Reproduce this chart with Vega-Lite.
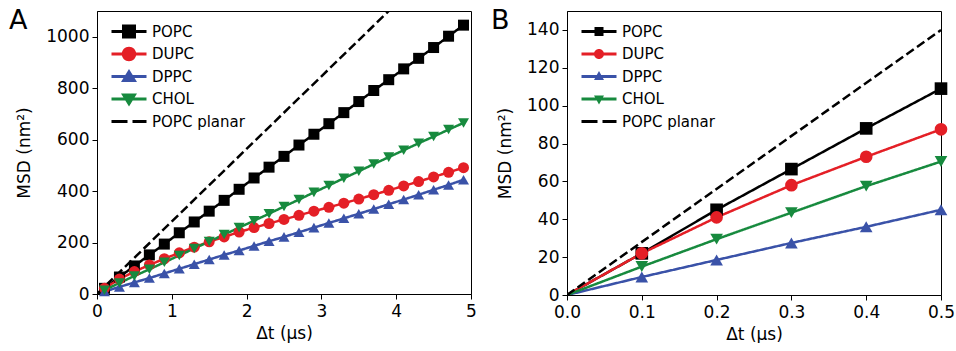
{
  "$schema": "https://vega.github.io/schema/vega-lite/v6.json",
  "padding": {"left": 8, "top": 6, "right": 0, "bottom": 0},
  "background": "white",
  "config": {
    "font": "DejaVu Sans",
    "view": {"stroke": "#000000", "strokeWidth": 1},
    "axis": {"domainColor": "#000000", "tickColor": "#000000", "labelColor": "#000000", "titleColor": "#000000", "labelFontSize": 17, "titleFontSize": 17, "titleFontWeight": "normal", "tickSize": 5, "labelPadding": 3, "grid": false, "labelFont": "DejaVu Sans", "titleFont": "DejaVu Sans", "labelFlush": false},
    "axisX": {"labelPadding": 4, "titlePadding": 6},
    "axisY": {"titlePadding": 12},
    "legend": {"labelFontSize": 15, "labelFont": "DejaVu Sans", "labelColor": "#000000", "orient": "none", "legendX": 12, "legendY": 13, "symbolSize": 100, "labelOffset": 28, "rowPadding": 6.5, "title": null},
    "title": {"font": "DejaVu Sans", "fontSize": 27, "fontWeight": "normal", "anchor": "start", "frame": "group", "baseline": "alphabetic", "color": "#000000"}
  },
  "datasets": {
    "a": [
      {"s": "POPC", "t": 0, "v": 0}, {"s": "POPC", "t": 0.1, "v": 22}, {"s": "POPC", "t": 0.3, "v": 66}, {"s": "POPC", "t": 0.5, "v": 109}, {"s": "POPC", "t": 0.7, "v": 152}, {"s": "POPC", "t": 0.9, "v": 194}, {"s": "POPC", "t": 1.1, "v": 238}, {"s": "POPC", "t": 1.3, "v": 280}, {"s": "POPC", "t": 1.5, "v": 322}, {"s": "POPC", "t": 1.7, "v": 364}, {"s": "POPC", "t": 1.9, "v": 407}, {"s": "POPC", "t": 2.1, "v": 451}, {"s": "POPC", "t": 2.3, "v": 493}, {"s": "POPC", "t": 2.5, "v": 535}, {"s": "POPC", "t": 2.7, "v": 579}, {"s": "POPC", "t": 2.9, "v": 621}, {"s": "POPC", "t": 3.1, "v": 662}, {"s": "POPC", "t": 3.3, "v": 705}, {"s": "POPC", "t": 3.5, "v": 748}, {"s": "POPC", "t": 3.7, "v": 791}, {"s": "POPC", "t": 3.9, "v": 833}, {"s": "POPC", "t": 4.1, "v": 875}, {"s": "POPC", "t": 4.3, "v": 916}, {"s": "POPC", "t": 4.5, "v": 958}, {"s": "POPC", "t": 4.7, "v": 1002}, {"s": "POPC", "t": 4.9, "v": 1045},
      {"s": "DUPC", "t": 0, "v": 0}, {"s": "DUPC", "t": 0.1, "v": 22}, {"s": "DUPC", "t": 0.3, "v": 58}, {"s": "DUPC", "t": 0.5, "v": 87}, {"s": "DUPC", "t": 0.7, "v": 113}, {"s": "DUPC", "t": 0.9, "v": 137}, {"s": "DUPC", "t": 1.1, "v": 160}, {"s": "DUPC", "t": 1.3, "v": 182}, {"s": "DUPC", "t": 1.5, "v": 203}, {"s": "DUPC", "t": 1.7, "v": 222}, {"s": "DUPC", "t": 1.9, "v": 241}, {"s": "DUPC", "t": 2.1, "v": 258}, {"s": "DUPC", "t": 2.3, "v": 274}, {"s": "DUPC", "t": 2.5, "v": 290}, {"s": "DUPC", "t": 2.7, "v": 306}, {"s": "DUPC", "t": 2.9, "v": 322}, {"s": "DUPC", "t": 3.1, "v": 337}, {"s": "DUPC", "t": 3.3, "v": 353}, {"s": "DUPC", "t": 3.5, "v": 369}, {"s": "DUPC", "t": 3.7, "v": 386}, {"s": "DUPC", "t": 3.9, "v": 403}, {"s": "DUPC", "t": 4.1, "v": 420}, {"s": "DUPC", "t": 4.3, "v": 437}, {"s": "DUPC", "t": 4.5, "v": 455}, {"s": "DUPC", "t": 4.7, "v": 473}, {"s": "DUPC", "t": 4.9, "v": 491},
      {"s": "DPPC", "t": 0, "v": 0}, {"s": "DPPC", "t": 0.1, "v": 9.5}, {"s": "DPPC", "t": 0.3, "v": 27.5}, {"s": "DPPC", "t": 0.5, "v": 45}, {"s": "DPPC", "t": 0.7, "v": 62}, {"s": "DPPC", "t": 0.9, "v": 80}, {"s": "DPPC", "t": 1.1, "v": 98}, {"s": "DPPC", "t": 1.3, "v": 116}, {"s": "DPPC", "t": 1.5, "v": 134}, {"s": "DPPC", "t": 1.7, "v": 152}, {"s": "DPPC", "t": 1.9, "v": 169}, {"s": "DPPC", "t": 2.1, "v": 187}, {"s": "DPPC", "t": 2.3, "v": 205}, {"s": "DPPC", "t": 2.5, "v": 222}, {"s": "DPPC", "t": 2.7, "v": 240}, {"s": "DPPC", "t": 2.9, "v": 258}, {"s": "DPPC", "t": 3.1, "v": 276}, {"s": "DPPC", "t": 3.3, "v": 294}, {"s": "DPPC", "t": 3.5, "v": 312}, {"s": "DPPC", "t": 3.7, "v": 330}, {"s": "DPPC", "t": 3.9, "v": 349}, {"s": "DPPC", "t": 4.1, "v": 367}, {"s": "DPPC", "t": 4.3, "v": 386}, {"s": "DPPC", "t": 4.5, "v": 405}, {"s": "DPPC", "t": 4.7, "v": 424}, {"s": "DPPC", "t": 4.9, "v": 444},
      {"s": "CHOL", "t": 0, "v": 0}, {"s": "CHOL", "t": 0.1, "v": 15}, {"s": "CHOL", "t": 0.3, "v": 43}, {"s": "CHOL", "t": 0.5, "v": 70}, {"s": "CHOL", "t": 0.7, "v": 96}, {"s": "CHOL", "t": 0.9, "v": 123}, {"s": "CHOL", "t": 1.1, "v": 150}, {"s": "CHOL", "t": 1.3, "v": 177}, {"s": "CHOL", "t": 1.5, "v": 204}, {"s": "CHOL", "t": 1.7, "v": 231}, {"s": "CHOL", "t": 1.9, "v": 258}, {"s": "CHOL", "t": 2.1, "v": 285}, {"s": "CHOL", "t": 2.3, "v": 312}, {"s": "CHOL", "t": 2.5, "v": 340}, {"s": "CHOL", "t": 2.7, "v": 367}, {"s": "CHOL", "t": 2.9, "v": 395}, {"s": "CHOL", "t": 3.1, "v": 422}, {"s": "CHOL", "t": 3.3, "v": 450}, {"s": "CHOL", "t": 3.5, "v": 477}, {"s": "CHOL", "t": 3.7, "v": 505}, {"s": "CHOL", "t": 3.9, "v": 532}, {"s": "CHOL", "t": 4.1, "v": 559}, {"s": "CHOL", "t": 4.3, "v": 586}, {"s": "CHOL", "t": 4.5, "v": 612}, {"s": "CHOL", "t": 4.7, "v": 639}, {"s": "CHOL", "t": 4.9, "v": 665},
      {"s": "POPC planar", "t": 0, "v": 0}, {"s": "POPC planar", "t": 5, "v": 1410}
    ],
    "b": [
      {"s": "POPC", "t": 0, "v": 0}, {"s": "POPC", "t": 0.1, "v": 22}, {"s": "POPC", "t": 0.2, "v": 45}, {"s": "POPC", "t": 0.3, "v": 66.5}, {"s": "POPC", "t": 0.4, "v": 88}, {"s": "POPC", "t": 0.5, "v": 109},
      {"s": "DUPC", "t": 0, "v": 0}, {"s": "DUPC", "t": 0.1, "v": 22}, {"s": "DUPC", "t": 0.2, "v": 41}, {"s": "DUPC", "t": 0.3, "v": 58}, {"s": "DUPC", "t": 0.4, "v": 73}, {"s": "DUPC", "t": 0.5, "v": 87.5},
      {"s": "DPPC", "t": 0, "v": 0}, {"s": "DPPC", "t": 0.1, "v": 9.5}, {"s": "DPPC", "t": 0.2, "v": 18.5}, {"s": "DPPC", "t": 0.3, "v": 27.5}, {"s": "DPPC", "t": 0.4, "v": 36}, {"s": "DPPC", "t": 0.5, "v": 45},
      {"s": "CHOL", "t": 0, "v": 0}, {"s": "CHOL", "t": 0.1, "v": 15}, {"s": "CHOL", "t": 0.2, "v": 29.5}, {"s": "CHOL", "t": 0.3, "v": 43.5}, {"s": "CHOL", "t": 0.4, "v": 57.5}, {"s": "CHOL", "t": 0.5, "v": 70.5},
      {"s": "POPC planar", "t": 0, "v": 0}, {"s": "POPC planar", "t": 0.5, "v": 140}
    ]
  },
  "spacing": 13,
  "resolve": {"scale": {"color": "independent", "shape": "independent", "strokeDash": "independent"}, "legend": {"color": "independent"}},
  "hconcat": [
    {
      "width": 374,
      "height": 283,
      "title": {"text": "A", "dx": -88, "offset": -24},
      "data": {"name": "a"},
      "layer": [
        {
          "mark": {"type": "line", "strokeWidth": 2.5, "clip": true},
          "encoding": {
            "x": {"field": "t", "type": "quantitative", "scale": {"domain": [0, 5], "nice": false}, "axis": {"values": [0, 1, 2, 3, 4, 5], "format": "d", "title": "Δt (μs)"}},
            "y": {"field": "v", "type": "quantitative", "scale": {"domain": [0, 1100], "nice": false}, "axis": {"values": [0, 200, 400, 600, 800, 1000], "format": "d", "title": "MSD (nm²)"}},
            "color": {"field": "s", "type": "nominal", "scale": {"domain": ["POPC", "DUPC", "DPPC", "CHOL", "POPC planar"], "range": ["#000000", "#e41f26", "#3a52a8", "#178a3e", "#000000"]},
              "legend": {"encode": {"symbols": {"update": {
                "shape": {"signal": "datum.value === 'POPC' ? 'M-1,-0.3H6V0.3H-1Z M1.1,-1.4H3.9V1.4H1.1Z' : datum.value === 'DUPC' ? 'M-1,-0.3H6V0.3H-1Z M1.05,0A1.45,1.45 0 1,1 3.95,0A1.45,1.45 0 1,1 1.05,0Z' : datum.value === 'DPPC' ? 'M-1,-0.3H6V0.3H-1Z M2.5,-1.5L4.1,1.1L0.9,1.1Z' : datum.value === 'CHOL' ? 'M-1,-0.3H6V0.3H-1Z M2.5,1.5L0.9,-1.1L4.1,-1.1Z' : 'M-1,-0.3H2.2V0.3H-1Z M3.2,-0.3H6V0.3H3.2Z'"},
                "fill": {"signal": "datum.value === 'DUPC' ? '#e41f26' : datum.value === 'DPPC' ? '#3a52a8' : datum.value === 'CHOL' ? '#178a3e' : '#000000'"},
                "stroke": {"value": "transparent"},
                "strokeWidth": {"value": 0},
                "opacity": {"value": 1}
              }}}}
            },
            "strokeDash": {"field": "s", "type": "nominal", "scale": {"domain": ["POPC", "DUPC", "DPPC", "CHOL", "POPC planar"], "range": [[1, 0], [1, 0], [1, 0], [1, 0], [9, 4]]}, "legend": null}
          }
        },
        {
          "transform": [{"filter": "datum.t > 0 && datum.s !== 'POPC planar'"}],
          "mark": {"type": "point", "filled": true, "opacity": 1, "size": 121},
          "encoding": {
            "x": {"field": "t", "type": "quantitative"},
            "y": {"field": "v", "type": "quantitative"},
            "color": {"field": "s", "type": "nominal"},
            "shape": {"field": "s", "type": "nominal", "scale": {"domain": ["POPC", "DUPC", "DPPC", "CHOL"], "range": ["square", "circle", "triangle-up", "triangle-down"]}, "legend": null}
          }
        }
      ]
    },
    {
      "width": 374,
      "height": 284,
      "title": {"text": "B", "dx": -76, "offset": -24},
      "data": {"name": "b"},
      "layer": [
        {
          "mark": {"type": "line", "strokeWidth": 2.5, "clip": true},
          "encoding": {
            "x": {"field": "t", "type": "quantitative", "scale": {"domain": [0, 0.5], "nice": false}, "axis": {"values": [0, 0.1, 0.2, 0.3, 0.4, 0.5], "format": ".1f", "title": "Δt (μs)"}},
            "y": {"field": "v", "type": "quantitative", "scale": {"domain": [0, 150], "nice": false}, "axis": {"values": [0, 20, 40, 60, 80, 100, 120, 140], "format": "d", "title": "MSD (nm²)"}},
            "color": {"field": "s", "type": "nominal", "scale": {"domain": ["POPC", "DUPC", "DPPC", "CHOL", "POPC planar"], "range": ["#000000", "#e41f26", "#3a52a8", "#178a3e", "#000000"]},
              "legend": {"encode": {"symbols": {"update": {
                "shape": {"signal": "datum.value === 'POPC' ? 'M-1,-0.3H6V0.3H-1Z M1.6,-0.9H3.4V0.9H1.6Z' : datum.value === 'DUPC' ? 'M-1,-0.3H6V0.3H-1Z M1.5,0A1,1 0 1,1 3.5,0A1,1 0 1,1 1.5,0Z' : datum.value === 'DPPC' ? 'M-1,-0.3H6V0.3H-1Z M2.5,-1.1L3.5,0.7L1.5,0.7Z' : datum.value === 'CHOL' ? 'M-1,-0.3H6V0.3H-1Z M2.5,1.1L1.5,-0.7L3.5,-0.7Z' : 'M-1,-0.3H2.2V0.3H-1Z M3.2,-0.3H6V0.3H3.2Z'"},
                "fill": {"signal": "datum.value === 'DUPC' ? '#e41f26' : datum.value === 'DPPC' ? '#3a52a8' : datum.value === 'CHOL' ? '#178a3e' : '#000000'"},
                "stroke": {"value": "transparent"},
                "strokeWidth": {"value": 0},
                "opacity": {"value": 1}
              }}}}
            },
            "strokeDash": {"field": "s", "type": "nominal", "scale": {"domain": ["POPC", "DUPC", "DPPC", "CHOL", "POPC planar"], "range": [[1, 0], [1, 0], [1, 0], [1, 0], [9, 4]]}, "legend": null}
          }
        },
        {
          "transform": [{"filter": "datum.t > 0 && datum.s !== 'POPC planar'"}],
          "mark": {"type": "point", "filled": true, "opacity": 1, "size": 160},
          "encoding": {
            "x": {"field": "t", "type": "quantitative"},
            "y": {"field": "v", "type": "quantitative"},
            "color": {"field": "s", "type": "nominal"},
            "shape": {"field": "s", "type": "nominal", "scale": {"domain": ["POPC", "DUPC", "DPPC", "CHOL"], "range": ["square", "circle", "triangle-up", "triangle-down"]}, "legend": null}
          }
        }
      ]
    }
  ]
}
